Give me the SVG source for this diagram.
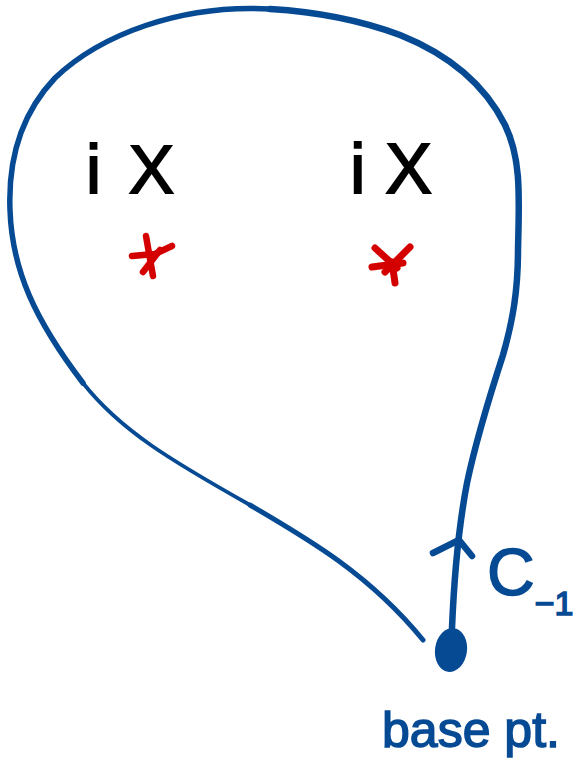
<svg xmlns="http://www.w3.org/2000/svg" width="576" height="770" viewBox="0 0 576 770">
<style>
.loop{fill:none;stroke:#064a94;stroke-linecap:round;stroke-linejoin:round}
.star{fill:none;stroke:#d40000;stroke-linecap:round;stroke-linejoin:round}
.lbl{font-family:"Liberation Sans",Arial,sans-serif;fill:#000;stroke:#000;stroke-width:1.8}
.blue{font-family:"Liberation Sans",Arial,sans-serif;fill:#064a94;stroke:#064a94;stroke-width:1.5}
</style>
<rect width="576" height="770" fill="#fff"/>
<g id="connectors">
<path class="loop" stroke-width="6.5" d="M452,628 C454,580 458,530 467,483 C475,445 490,395 503,355 C513,320 518,290 518,250 C519,200 522,160 505,125 C485,85 450,55 400,35 C360,20 320,12 270,9"/>
<path class="loop" stroke-width="5.5" d="M270,9 C180,4 100,35 55,78 C20,115 8,160 10,210 C12,270 35,320 83,383"/>
<path class="loop" stroke-width="3.8" d="M83,383 C120,430 170,460 250,505"/>
<path class="loop" stroke-width="5" d="M250,505 C310,540 370,575 423,640"/>
<polyline class="loop" stroke-width="6.5" points="433,553 459,540 472,556"/>
</g>
<g id="base-point">
<ellipse cx="451" cy="650" rx="16" ry="22" transform="rotate(8 451 650)" fill="#064a94"/>
<text class="blue" x="382" y="747" font-size="50" textLength="178">base pt.</text>
</g>
<g id="loop-label">
<text class="blue" x="487" y="595" font-size="66">C<tspan font-size="34" dy="20">−1</tspan></text>
</g>
<g id="point-1">
<text class="lbl" x="86" y="193" font-size="68" textLength="88">iX</text>
<g class="star" stroke-width="6.5">
<path d="M146,236 L153,276"/>
<path d="M132,256 L155,254 L172,246"/>
<path d="M143,272 L160,250"/>
</g>
</g>
<g id="point-2">
<text class="lbl" x="350" y="193" font-size="70" textLength="82">iX</text>
<g class="star" stroke-width="7">
<path d="M375,248 L397,268"/>
<path d="M410,247 L385,272"/>
<path d="M372,267 L403,263"/>
<path d="M392,262 L395,283"/>
</g>
</g>
</svg>
